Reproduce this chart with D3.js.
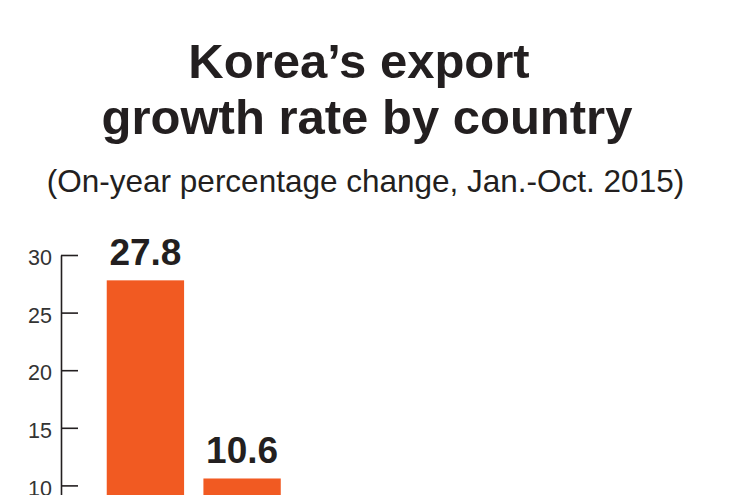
<!DOCTYPE html>
<html><head><meta charset="utf-8">
<script src="https://cdn.jsdelivr.net/npm/d3@7"></script>
<style>body{margin:0;background:#fff}svg{display:block}</style>
</head><body>
<svg id="c" width="750" height="495"></svg>
<script>
const categories = ["A", "B"];
const values = [27.8, 10.6];
const yTicks = [10, 15, 20, 25, 30];
const titleLines = ["Korea\u2019s export", "growth rate by country"];
const subtitle = "(On-year percentage change, Jan.-Oct. 2015)";

const svg = d3.select("#c");
const font = "'Liberation Sans', Arial, Helvetica, sans-serif";

const y = d3.scaleLinear().domain([0, 30]).range([600.6, 255]);
const x = d3.scaleBand().domain(categories).range([87.4, 300.1]).paddingInner(0.2).paddingOuter(0.2);

svg.selectAll("text.title").data(titleLines).join("text")
  .attr("x", (d, i) => i === 0 ? 359 : 367).attr("y", (d, i) => 78 + i * 56)
  .attr("text-anchor", "middle").attr("font-family", font)
  .attr("font-weight", "bold").attr("font-size", 49).attr("fill", "#231f20")
  .text(d => d);

svg.append("text").attr("x", 365.5).attr("y", 192).attr("text-anchor", "middle")
  .attr("font-family", font).attr("font-size", 31.5).attr("fill", "#231f20").text(subtitle);

const ax = svg.append("g").attr("transform", "translate(61,0)")
  .call(d3.axisLeft(y).tickValues(yTicks).tickSizeInner(-17).tickSizeOuter(0).tickPadding(9));
ax.selectAll("path,line").attr("stroke", "#231f20").attr("stroke-width", 1.6);
ax.selectAll("text").attr("font-family", font).attr("font-size", 21.5).attr("fill", "#333")
  .attr("x", -9).attr("dy", "0.45em").attr("text-anchor", "end");

svg.selectAll("rect.bar").data(values).join("rect")
  .attr("x", (d, i) => x(categories[i])).attr("width", x.bandwidth())
  .attr("y", d => y(d)).attr("height", d => y(0) - y(d)).attr("fill", "#f15a22");

svg.selectAll("text.val").data(values).join("text")
  .attr("x", (d, i) => x(categories[i]) + x.bandwidth() / 2).attr("y", d => y(d) - 15)
  .attr("text-anchor", "middle").attr("font-family", font).attr("font-weight", "bold")
  .attr("font-size", 37).attr("fill", "#231f20").text(d => d.toFixed(1));
</script>
</body></html>
